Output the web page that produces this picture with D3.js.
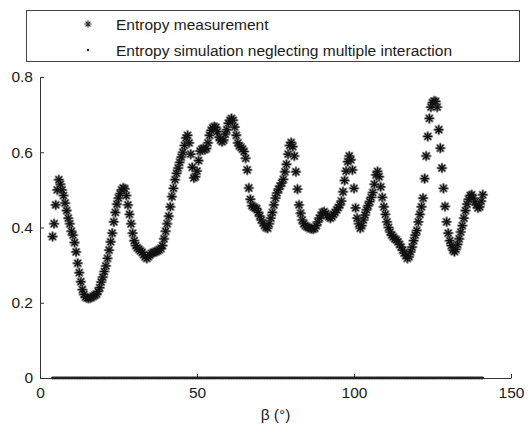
<!DOCTYPE html>
<html>
<head>
<meta charset="utf-8">
<script src="https://cdn.jsdelivr.net/npm/d3@7/dist/d3.min.js"></script>
<style>
  html, body { margin: 0; padding: 0; background: #fff; }
  svg { display: block; }
  text { font-family: "Liberation Sans", Arial, Helvetica, sans-serif; fill: #1a1a1a; }
</style>
</head>
<body>
<svg id="chart" width="528" height="426"></svg>
<script>
// Incidence angle grid (degrees), sampled every 0.5°
const angles = d3.range(4, 141.01, 0.5);

// Measured entropy at each angle
const entropyMeasured = [
  0.376,0.41,0.46,0.50,0.527,0.515,0.50,0.485,0.465,0.445,
  0.425,0.41,0.39,0.38,0.36,0.335,0.305,0.28,0.256,0.235,
  0.222,0.215,0.213,0.212,0.213,0.215,0.217,0.22,0.223,0.23,
  0.24,0.255,0.268,0.283,0.298,0.318,0.34,0.362,0.385,0.415,
  0.44,0.462,0.478,0.49,0.50,0.505,0.503,0.485,0.46,0.435,
  0.41,0.385,0.365,0.352,0.346,0.342,0.338,0.334,0.328,0.322,
  0.318,0.322,0.327,0.331,0.333,0.335,0.336,0.338,0.341,0.344,
  0.352,0.37,0.39,0.41,0.43,0.455,0.482,0.504,0.527,0.544,
  0.558,0.573,0.587,0.60,0.618,0.638,0.645,0.625,0.595,0.56,
  0.532,0.535,0.55,0.578,0.603,0.608,0.61,0.607,0.61,0.625,
  0.645,0.658,0.665,0.668,0.666,0.655,0.64,0.632,0.628,0.632,
  0.648,0.66,0.677,0.685,0.69,0.685,0.667,0.645,0.625,0.617,
  0.613,0.608,0.602,0.584,0.553,0.505,0.475,0.458,0.455,0.452,
  0.45,0.44,0.43,0.42,0.412,0.405,0.40,0.398,0.41,0.425,
  0.44,0.46,0.478,0.492,0.502,0.51,0.518,0.528,0.548,0.568,
  0.595,0.618,0.626,0.615,0.59,0.548,0.502,0.46,0.438,0.42,
  0.41,0.405,0.402,0.40,0.398,0.397,0.396,0.398,0.405,0.415,
  0.425,0.432,0.44,0.442,0.437,0.432,0.428,0.425,0.429,0.435,
  0.44,0.447,0.453,0.46,0.47,0.495,0.525,0.55,0.575,0.59,
  0.58,0.553,0.504,0.452,0.425,0.41,0.398,0.405,0.42,0.433,
  0.447,0.458,0.469,0.48,0.493,0.515,0.54,0.549,0.535,0.508,
  0.48,0.455,0.435,0.415,0.40,0.388,0.38,0.375,0.37,0.367,
  0.362,0.355,0.348,0.34,0.332,0.325,0.318,0.322,0.335,0.348,
  0.365,0.38,0.392,0.415,0.435,0.455,0.478,0.53,0.59,0.642,
  0.69,0.72,0.732,0.736,0.735,0.72,0.66,0.611,0.558,0.504,
  0.456,0.415,0.385,0.365,0.352,0.34,0.336,0.342,0.355,0.37,
  0.388,0.405,0.425,0.445,0.462,0.475,0.485,0.487,0.478,0.468,
  0.46,0.452,0.455,0.47,0.487
];

// Simulated entropy without multiple interaction (same angles)
const entropySimulated = [
  0,0,0,0,0,0,0,0,0,0,0,0,0,0,0,0,0,0,0,0,0,0,0,0,0,
  0,0,0,0,0,0,0,0,0,0,0,0,0,0,0,0,0,0,0,0,0,0,0,0,0,
  0,0,0,0,0,0,0,0,0,0,0,0,0,0,0,0,0,0,0,0,0,0,0,0,0,
  0,0,0,0,0,0,0,0,0,0,0,0,0,0,0,0,0,0,0,0,0,0,0,0,0,
  0,0,0,0,0,0,0,0,0,0,0,0,0,0,0,0,0,0,0,0,0,0,0,0,0,
  0,0,0,0,0,0,0,0,0,0,0,0,0,0,0,0,0,0,0,0,0,0,0,0,0,
  0,0,0,0,0,0,0,0,0,0,0,0,0,0,0,0,0,0,0,0,0,0,0,0,0,
  0,0,0,0,0,0,0,0,0,0,0,0,0,0,0,0,0,0,0,0,0,0,0,0,0,
  0,0,0,0,0,0,0,0,0,0,0,0,0,0,0,0,0,0,0,0,0,0,0,0,0,
  0,0,0,0,0,0,0,0,0,0,0,0,0,0,0,0,0,0,0,0,0,0,0,0,0,
  0,0,0,0,0,0,0,0,0,0,0,0,0,0,0,0,0,0,0,0,0,0,0,0,0
];

const xTicks = [0, 50, 100, 150];
const yTicks = [0, 0.2, 0.4, 0.6, 0.8];
const legendLabels = ["Entropy measurement", "Entropy simulation neglecting multiple interaction"];
const xLabel = "β (°)";

const svg = d3.select("#chart");

const x = d3.scaleLinear().domain([0, 150]).range([40, 511]);
const y = d3.scaleLinear().domain([0, 0.8]).range([378, 77]);

// Asterisk marker: a "+" overlaid with an "x"
function asteriskPath(r) {
  const d = r * Math.SQRT1_2;
  return `M${-r},0L${r},0M0,${-r}L0,${r}M${-d},${-d}L${d},${d}M${-d},${d}L${d},${-d}`;
}

// Axes
const axisColor = "#333";
const gx = svg.append("g").attr("transform", `translate(0,${y(0)})`)
  .call(d3.axisBottom(x).tickValues(xTicks).tickSize(-4).tickSizeOuter(0).tickPadding(9).tickFormat(d3.format("d")));
const gy = svg.append("g").attr("transform", `translate(${x(0)},0)`)
  .call(d3.axisLeft(y).tickValues(yTicks).tickSize(-4).tickSizeOuter(0).tickPadding(7)
    .tickFormat(d => d === 0 ? "0" : d3.format(".1f")(d)));
[gx, gy].forEach(g => {
  g.selectAll("path, line").attr("stroke", axisColor).attr("stroke-width", 1);
  g.selectAll("text").attr("font-size", 15.5).attr("fill", "#1a1a1a")
    .attr("font-family", '"Liberation Sans", Arial, Helvetica, sans-serif');
});

svg.append("text")
  .attr("x", (x(0) + x(150)) / 2).attr("y", 420)
  .attr("text-anchor", "middle").attr("font-size", 15.5)
  .text(xLabel);

// Simulation: small dots along the data
svg.append("g").selectAll("circle")
  .data(angles.map((a, i) => [a, entropySimulated[i]]))
  .join("circle")
  .attr("cx", d => x(d[0])).attr("cy", d => y(d[1]))
  .attr("r", 1.4).attr("fill", "#222");

// Measurement: asterisks with soft halo
const pts = angles.map((a, i) => [a, entropyMeasured[i]]);
const star = asteriskPath(4.3);
const gMeas = svg.append("g");
gMeas.selectAll("path.halo").data(pts).join("path")
  .attr("class", "halo")
  .attr("transform", d => `translate(${x(d[0])},${y(d[1])})`)
  .attr("d", star).attr("fill", "none")
  .attr("stroke", "#8a8a8a").attr("stroke-width", 2.4).attr("stroke-linecap", "round");
gMeas.selectAll("path.core").data(pts).join("path")
  .attr("class", "core")
  .attr("transform", d => `translate(${x(d[0])},${y(d[1])})`)
  .attr("d", star).attr("fill", "none")
  .attr("stroke", "#111").attr("stroke-width", 1.2);

// Legend
const legend = svg.append("g");
legend.append("rect")
  .attr("x", 26.5).attr("y", 10.5).attr("width", 493).attr("height", 51)
  .attr("fill", "#fff").attr("stroke", "#444").attr("stroke-width", 1);
legend.append("path")
  .attr("transform", "translate(88,24)")
  .attr("d", asteriskPath(3.4)).attr("fill", "none")
  .attr("stroke", "#333").attr("stroke-width", 1.2);
legend.append("circle").attr("cx", 88).attr("cy", 50).attr("r", 1.2).attr("fill", "#222");
legend.selectAll("text.lbl").data(legendLabels).join("text")
  .attr("class", "lbl")
  .attr("x", 116).attr("y", (d, i) => 29.5 + i * 26)
  .attr("font-size", 15.5)
  .text(d => d);
</script>
</body>
</html>
